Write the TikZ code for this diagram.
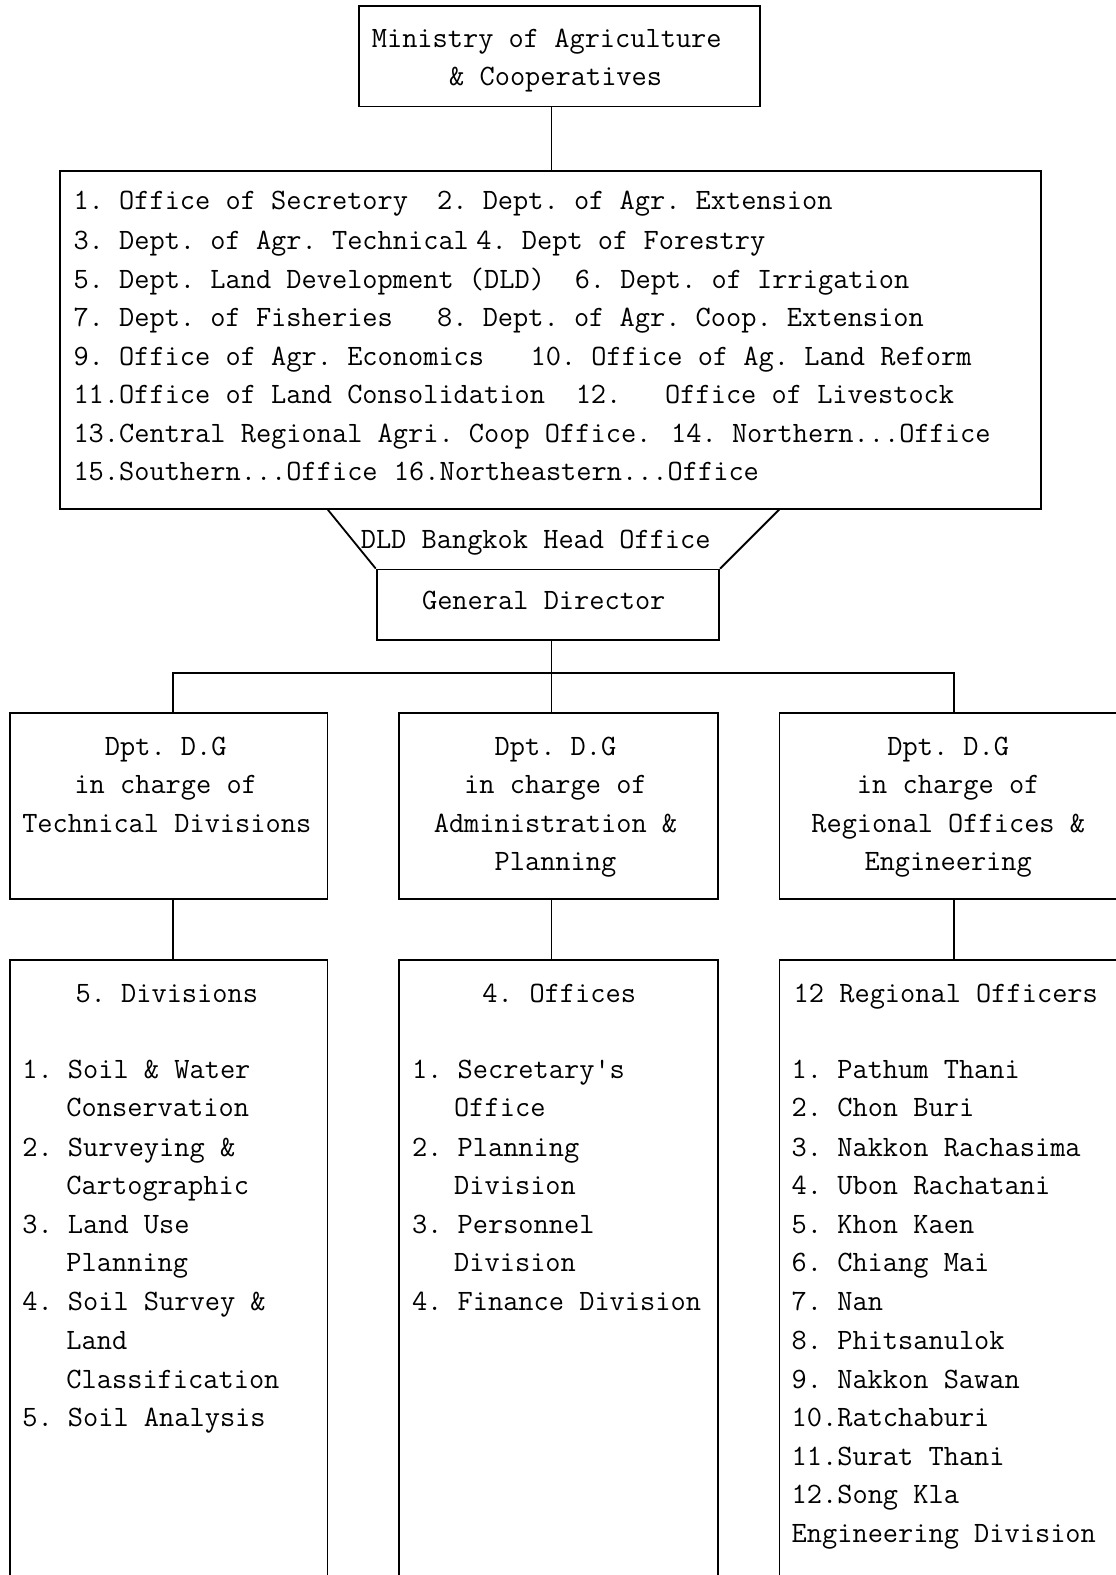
\documentclass[tikz,border=0pt]{standalone}
\usepackage{fontspec}
\frenchspacing
\begin{document}
\begin{tikzpicture}[x=1pt,y=-1pt,
  box/.style={draw,line width=1.8pt,inner sep=0pt,rectangle},
  ln/.style={line width=1.8pt},
  tx/.style={anchor=base west,inner sep=0pt,font=\ttfamily\fontsize{29.4}{35}\selectfont},
  tc/.style={anchor=base,inner sep=0pt,font=\ttfamily\fontsize{29.4}{35}\selectfont}]
\useasboundingbox (0,0) rectangle (1111,1568);
\begin{scope}
\clip (0,0) rectangle (1111,1568);
% boxes
\node[box,minimum width=400pt,minimum height=100pt] (min) at (557,56) {};
\node[box,minimum width=976pt,minimum height=337pt] (list) at (548,338.5) {};
\node[box,minimum width=341pt,minimum height=70pt] (gd) at (545.5,602) {};
\node[box,minimum width=316pt,minimum height=185pt] (tech) at (168,802.5) {};
\node[box,minimum width=318pt,minimum height=185pt] (adm) at (556,802.5) {};
\node[box,minimum width=337pt,minimum height=185pt] (reg) at (944.5,802.5) {};
\node[box,minimum width=316pt,minimum height=634pt] (div) at (168,1273) {};
\node[box,minimum width=318pt,minimum height=634pt] (off) at (556,1273) {};
\node[box,minimum width=337pt,minimum height=634pt] (rof) at (944.5,1273) {};
\end{scope}
% coordinates
\coordinate (xl) at (172,0);
\coordinate (xm) at (549,0);
\coordinate (xr) at (950,0);
\coordinate (bar) at (549,670);
\coordinate (fl) at (326,507);
\coordinate (fr) at (776,507);
% connectors
\draw[ln] (min.south -| xm) -- (list.north -| xm);
\draw[ln] (fl) -- (gd.north west);
\draw[ln] (fr) -- (gd.north east);
\draw[ln] (gd.south -| xm) -- (adm.north -| xm);
\draw[ln] (tech.north -| xl) |- (bar) -| (reg.north -| xr);
\draw[ln] (tech.south -| xl) -- (div.north -| xl);
\draw[ln] (adm.south -| xm) -- (off.north -| xm);
\draw[ln] (reg.south -| xr) -- (rof.north -| xr);
% Ministry
\node[tx] (m1) at (370,47) {Ministry of Agriculture};
\node[tx] (m2) at (447,85) {\& Cooperatives};
% list
\node[tx] (l1a) at (73,209) {1. Office of Secretory};
\node[tx] (l1b) at (435,209) {2. Dept. of Agr. Extension};
\node[tx] (l2a) at (73,248) {3. Dept. of Agr. Technical};
\node[tx] (l2b) at (474,248) {4. Dept of Forestry};
\node[tx] (l3a) at (73,287) {5. Dept. Land Development (DLD)};
\node[tx] (l3b) at (572,287) {6. Dept. of Irrigation};
\node[tx] (l4a) at (73,325) {7. Dept. of Fisheries};
\node[tx] (l4b) at (435,325) {8. Dept. of Agr. Coop. Extension};
\node[tx] (l5a) at (73,364) {9. Office of Agr. Economics};
\node[tx] (l5b) at (528,364) {10. Office of Ag. Land Reform};
\node[tx] (l6a) at (73,402) {11.Office of Land Consolidation};
\node[tx] (l6b) at (573,402) {12.};
\node[tx] (l6c) at (662,402) {Office of Livestock};
\node[tx] (l7a) at (73,441) {13.Central Regional Agri. Coop Office.};
\node[tx] (l7b) at (668,441) {14. Northern...Office};
\node[tx] (l8a) at (73,478) {15.Southern...Office};
\node[tx] (l8b) at (392,478) {16.Northeastern...Office};
% DLD / GD
\node[tx] (dld) at (359,546) {DLD Bangkok Head Office};
\node[tx] (gdt) at (420,607) {General Director};
% mid boxes
\node[tc] (a1) at (165,752) {Dpt. D.G};
\node[tc] (a2) at (165,790) {in charge of};
\node[tc] (a3) at (166,829) {Technical Divisions};
\node[tc] (b1) at (553,752) {Dpt. D.G};
\node[tc] (b2) at (553,790) {in charge of};
\node[tc] (b3) at (553,829) {Administration \&};
\node[tc] (b4) at (553,867) {Planning};
\node[tc] (c1) at (944,752) {Dpt. D.G};
\node[tc] (c2) at (944,790) {in charge of};
\node[tc] (c3) at (944,829) {Regional Offices \&};
\node[tc] (c4) at (944,867) {Engineering};
% bottom left
\node[tx] (d0) at (75,998) {5. Divisions};
\node[tx] (d1) at (22,1074) {1. Soil \& Water};
\node[tx] (d2) at (66,1112) {Conservation};
\node[tx] (d3) at (22,1151) {2. Surveying \&};
\node[tx] (d4) at (66,1189) {Cartographic};
\node[tx] (d5) at (22,1228) {3. Land Use};
\node[tx] (d6) at (66,1266) {Planning};
\node[tx] (d7) at (22,1305) {4. Soil Survey \&};
\node[tx] (d8) at (66,1343) {Land};
\node[tx] (d9) at (66,1382) {Classification};
\node[tx] (d10) at (22,1420) {5. Soil Analysis};
% bottom middle
\node[tx] (o0a) at (480,998) {4.};
\node[tx] (o0b) at (527,998) {Offices};
\node[tx] (o1) at (410,1074) {1. Secretary's};
\node[tx] (o2) at (452,1112) {Office};
\node[tx] (o3) at (410,1151) {2. Planning};
\node[tx] (o4) at (452,1189) {Division};
\node[tx] (o5) at (410,1228) {3. Personnel};
\node[tx] (o6) at (452,1266) {Division};
\node[tx] (o7) at (410,1305) {4. Finance Division};
% bottom right
\node[tx] (r0) at (790,998) {12 Regional Officers};
\node[tx] (r1) at (788,1074) {1. Pathum Thani};
\node[tx] (r2) at (788,1112) {2. Chon Buri};
\node[tx] (r3) at (788,1151) {3. Nakkon Rachasima};
\node[tx] (r4) at (788,1189) {4. Ubon Rachatani};
\node[tx] (r5) at (788,1228) {5. Khon Kaen};
\node[tx] (r6) at (788,1266) {6. Chiang Mai};
\node[tx] (r7) at (788,1305) {7. Nan};
\node[tx] (r8) at (788,1343) {8. Phitsanulok};
\node[tx] (r9) at (788,1382) {9. Nakkon Sawan};
\node[tx] (r10) at (788,1420) {10.Ratchaburi};
\node[tx] (r11) at (788,1459) {11.Surat Thani};
\node[tx] (r12) at (788,1497) {12.Song Kla};
\node[tx] (r13) at (788,1536) {Engineering Division};
\end{tikzpicture}
\end{document}
